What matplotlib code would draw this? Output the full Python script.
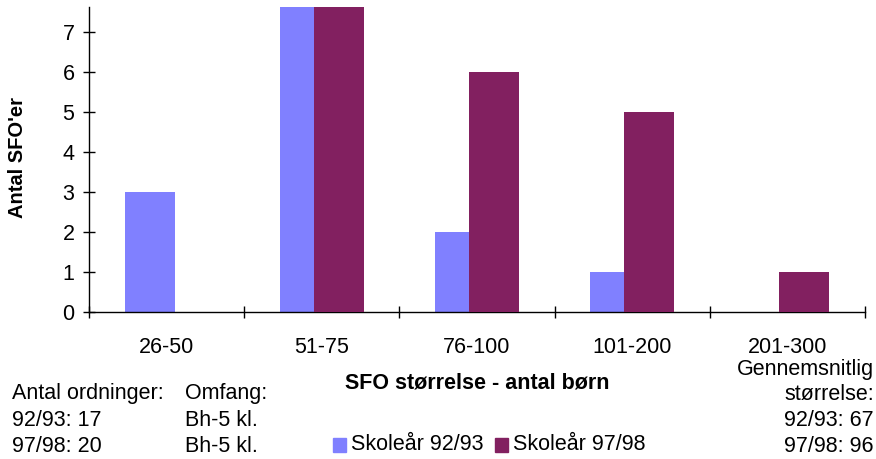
import matplotlib
matplotlib.use('Agg')
import matplotlib.pyplot as plt
import numpy as np
from matplotlib.patches import Rectangle

plt.rcParams['font.family'] = ['Liberation Sans', 'DejaVu Sans']

# data
categories = ['26-50', '51-75', '76-100', '101-200', '201-300']
season_9293 = [3, 11, 2, 1, 0]
season_9798 = [0, 8, 6, 5, 1]
series_names = ['Skoleår 92/93', 'Skoleår 97/98']

blue = '#8080FF'
purple = '#822060'

W, H = 876, 459
fig = plt.figure(figsize=(W / 100, H / 100), dpi=100)


def fx(px):
    return px / W


def fy(py):
    return 1 - py / H


ax = fig.add_axes([fx(89), fy(312), fx(865) - fx(89), (312 - 7) / H])

x = np.arange(len(categories))
bw = 0.322
off = 0.11
ax.bar(x - off, season_9293, bw, color=blue, zorder=2)
ax.bar(x + off, season_9798, bw, color=purple, zorder=3)

fs = 15.5
ax.set_xlim(-0.5, len(categories) - 0.5)
ax.set_ylim(0, 7.62)
ax.set_yticks(range(0, 8))
ax.set_xticks(np.arange(len(categories) + 1) - 0.5)
ax.set_xticklabels([])
ax.set_xticks(x, minor=True)
ax.set_xticklabels(categories, minor=True)
ax.tick_params(axis='x', which='minor', length=0, pad=18, labelsize=fs)
ax.tick_params(axis='x', which='major', direction='inout', length=8, width=1)
ax.tick_params(axis='y', direction='inout', length=9, width=1, labelsize=fs, pad=6)

for s in ['top', 'right']:
    ax.spines[s].set_visible(False)
for s in ['left', 'bottom']:
    ax.spines[s].set_linewidth(1)

fig.text(fx(18), fy(158), "Antal SFO'er", fontsize=14.5, fontweight='bold',
         rotation=90, ha='center', va='center')
fig.text(fx(477), fy(383), 'SFO størrelse - antal børn', fontsize=fs,
         fontweight='bold', ha='center', va='center')

for i, line in enumerate(['Antal ordninger:', '92/93: 17', '97/98: 20']):
    fig.text(fx(12), fy(393 + 27 * i), line, fontsize=fs, ha='left', va='center')
for i, line in enumerate(['Omfang:', 'Bh-5 kl.', 'Bh-5 kl.']):
    fig.text(fx(185), fy(393 + 27 * i), line, fontsize=fs, ha='left', va='center')
for i, line in enumerate(['Gennemsnitlig', 'størrelse:', '92/93: 67', '97/98: 96']):
    fig.text(fx(874), fy(369 + 26 * i), line, fontsize=fs, ha='right', va='center')

# legend
for px, col, name in [(333, blue, series_names[0]), (495, purple, series_names[1])]:
    fig.patches.append(Rectangle((fx(px), fy(452)), fx(13), 14 / H,
                                 transform=fig.transFigure, color=col))
    fig.text(fx(px + 18), fy(444), name, fontsize=fs, ha='left', va='center')

fig.savefig('out.png', dpi=100)
